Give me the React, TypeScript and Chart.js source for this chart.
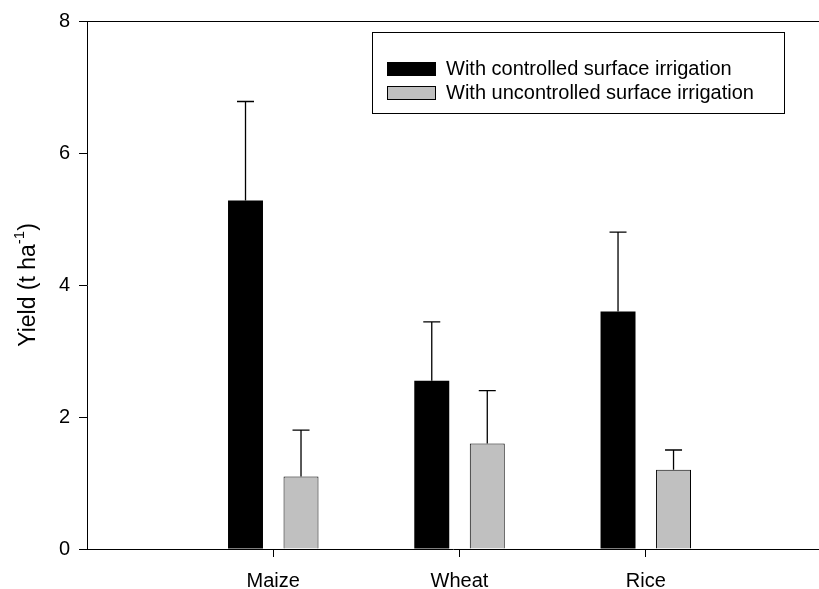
import React, { useEffect, useRef } from "react";
import { Chart, registerables } from "chart.js";

Chart.register(...registerables);

const categories = ["Maize", "Wheat", "Rice"];
const categoryPositions = [1, 2, 3];
const controlledYield = [5.28, 2.55, 3.6];
const controlledError = [1.5, 0.89, 1.2];
const uncontrolledYield = [1.1, 1.6, 1.2];
const uncontrolledError = [0.7, 0.8, 0.3];
const seriesNames = [
  "With controlled surface irrigation",
  "With uncontrolled surface irrigation",
];
const seriesColors = ["#000000", "#c0c0c0"];
const yMin = 0;
const yMax = 8;
const yStep = 2;
const xMax = 3.93;

const FONT = "'Liberation Sans', Arial, sans-serif";

const errorBarsPlugin = {
  id: "errorBars",
  afterDatasetsDraw(chart: any) {
    const ctx = chart.ctx;
    const yScale = chart.scales.y;
    chart.data.datasets.forEach((ds: any, i: number) => {
      const meta = chart.getDatasetMeta(i);
      meta.data.forEach((bar: any, j: number) => {
        const v = ds.data[j].y;
        const top = yScale.getPixelForValue(v + ds.errors[j]);
        ctx.save();
        ctx.strokeStyle = "#000";
        ctx.lineWidth = 1.3;
        ctx.beginPath();
        ctx.moveTo(bar.x, bar.y);
        ctx.lineTo(bar.x, top);
        ctx.moveTo(bar.x - 8.5, top);
        ctx.lineTo(bar.x + 8.5, top);
        ctx.stroke();
        ctx.restore();
      });
    });
  },
};

const framePlugin = {
  id: "frame",
  afterDraw(chart: any) {
    const ctx = chart.ctx;
    const a = chart.chartArea;
    ctx.save();
    ctx.strokeStyle = "#000";
    ctx.lineWidth = 1;
    ctx.beginPath();
    ctx.moveTo(a.left, Math.round(a.top) + 0.5);
    ctx.lineTo(a.right, Math.round(a.top) + 0.5);
    ctx.stroke();

    // y axis title
    ctx.translate(29, (a.top + a.bottom) / 2);
    ctx.rotate(-Math.PI / 2);
    ctx.fillStyle = "#000";
    ctx.textBaseline = "middle";
    const main = "Yield (t ha";
    const sup = "-1";
    const end = ")";
    ctx.font = `23px ${FONT}`;
    const w1 = ctx.measureText(main).width;
    const w3 = ctx.measureText(end).width;
    ctx.font = `15px ${FONT}`;
    const w2 = ctx.measureText(sup).width;
    const total = w1 + w2 + w3;
    let x = -total / 2;
    ctx.textAlign = "left";
    ctx.font = `23px ${FONT}`;
    ctx.fillText(main, x, 0);
    x += w1;
    ctx.font = `15px ${FONT}`;
    ctx.fillText(sup, x, -9);
    x += w2;
    ctx.font = `23px ${FONT}`;
    ctx.fillText(end, x, 0);
    ctx.restore();

    // legend
    ctx.save();
    ctx.strokeStyle = "#000";
    ctx.lineWidth = 1;
    ctx.strokeRect(372.5, 32.5, 412, 81);
    ctx.font = `20px ${FONT}`;
    ctx.textBaseline = "middle";
    ctx.textAlign = "left";
    seriesNames.forEach((name, i) => {
      const rowY = 62 + i * 24;
      ctx.fillStyle = seriesColors[i];
      ctx.fillRect(387, rowY, 49, 14);
      ctx.strokeStyle = "#000";
      ctx.strokeRect(387.5, rowY + 0.5, 48, 13);
      ctx.fillStyle = "#000";
      ctx.fillText(name, 446, rowY + 7);
    });
    ctx.restore();
  },
};

export default function App() {
  const canvasRef = useRef<HTMLCanvasElement | null>(null);

  useEffect(() => {
    const canvas = canvasRef.current;
    if (!canvas) return;
    const chart = new Chart(canvas, {
      type: "bar",
      data: {
        datasets: [
          {
            label: seriesNames[0],
            data: categoryPositions.map((x, i) => ({ x, y: controlledYield[i] })),
            errors: controlledError,
            backgroundColor: seriesColors[0],
            borderColor: "#000",
            borderWidth: 0,
            categoryPercentage: 0.596,
            barPercentage: 0.63,
          } as any,
          {
            label: seriesNames[1],
            data: categoryPositions.map((x, i) => ({ x, y: uncontrolledYield[i] })),
            errors: uncontrolledError,
            backgroundColor: seriesColors[1],
            borderColor: "#000",
            borderWidth: 1,
            categoryPercentage: 0.596,
            barPercentage: 0.63,
          } as any,
        ],
      },
      options: {
        animation: false,
        responsive: true,
        maintainAspectRatio: false,
        layout: { padding: { top: 21, left: 0, right: 0, bottom: 0 } },
        plugins: {
          legend: { display: false },
          tooltip: { enabled: false },
        },
        scales: {
          x: {
            type: "linear",
            min: 0,
            max: xMax,
            offset: false,
            afterBuildTicks: (scale: any) => {
              scale.ticks = categoryPositions.map((v) => ({ value: v }));
            },
            afterFit: (scale: any) => {
              scale.height = 40;
            },
            grid: {
              offset: false,
              drawOnChartArea: false,
              drawTicks: true,
              tickLength: 8,
              color: "#000",
              lineWidth: 1,
            },
            border: { display: true, color: "#000", width: 1 },
            ticks: {
              autoSkip: false,
              maxRotation: 0,
              padding: 12,
              color: "#000",
              font: { family: FONT, size: 20 },
              callback: (value: any) => {
                const idx = categoryPositions.indexOf(Number(value));
                return idx >= 0 ? categories[idx] : "";
              },
            },
          },
          y: {
            type: "linear",
            min: yMin,
            max: yMax,
            afterFit: (scale: any) => {
              scale.width = 87;
            },
            grid: {
              drawOnChartArea: false,
              drawTicks: true,
              tickLength: 8,
              color: "#000",
              lineWidth: 1,
            },
            border: { display: true, color: "#000", width: 1 },
            ticks: {
              stepSize: yStep,
              padding: 9,
              color: "#000",
              font: { family: FONT, size: 20 },
            },
          },
        },
      } as any,
      plugins: [errorBarsPlugin, framePlugin],
    });
    return () => chart.destroy();
  }, []);

  return (
    <div
      style={{
        position: "fixed",
        left: 0,
        top: 0,
        width: 819,
        height: 589,
        background: "#fff",
      }}
    >
      <canvas ref={canvasRef} />
    </div>
  );
}
